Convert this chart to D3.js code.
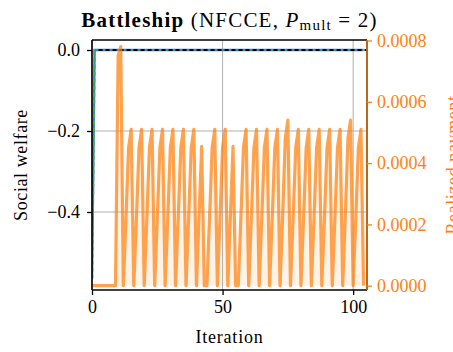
<!DOCTYPE html>
<html>
<head>
<meta charset="utf-8">
<script src="https://cdn.jsdelivr.net/npm/d3@7"></script>
<style>
  html, body { margin: 0; padding: 0; background: #fff; }
  svg { display: block; }
</style>
</head>
<body>
<svg id="chart" width="453" height="352"></svg>
<script>
// ---------- data ----------
const payment = [
  0, 0, 0, 0, 0, 0, 0, 0, 0, 0,
  0.00075, 0.00078,
  0, 0.00022, 0.00045, 0.00051,
  0, 0.00022, 0.00045, 0.00051,
  0, 0.00022, 0.00045, 0.00051,
  0, 0.00022, 0.00045, 0.00051,
  0, 0.00022, 0.00045, 0.00051,
  0, 0.00022, 0.00045, 0.00051,
  0, 0.00022, 0.00045, 0.00051,
  0, 0.00023, 0.000455,
  0, 0, 0.00022, 0.00045, 0.00051,
  0, 0.00022, 0.00045, 0.00051,
  0, 0.00023, 0.000455,
  0, 0, 0.00022, 0.00045, 0.00051,
  0, 0.00022, 0.00045, 0.00051,
  0, 0.00022, 0.00045, 0.00051,
  0, 0.00022, 0.00045, 0.00051,
  0, 0.00023, 0.00048, 0.00054,
  0, 0.00022, 0.00045, 0.00051,
  0, 0.00022, 0.00045, 0.00051,
  0, 0.00022, 0.00045, 0.00051,
  0, 0.00022, 0.00045, 0.00051,
  0, 0.00022, 0.00045, 0.00051,
  0, 0.00023, 0.00048, 0.00054,
  0, 0.00022, 0.00045, 0.00051,
  0
];
const iterations = payment.map((_, i) => i);

const welfareBlue = [
  -0.565, 0, 0, 0, 0, 0, 0, 0, 0, 0, 0, 0, 0, 0, 0, 0, 0, 0, 0, 0, 0,
  0, 0, 0, 0, 0, 0, 0, 0, 0, 0, 0, 0, 0, 0, 0, 0, 0, 0, 0, 0, 0,
  0, 0, 0, 0, 0, 0, 0, 0, 0, 0, 0, 0, 0, 0, 0, 0, 0, 0, 0, 0, 0,
  0, 0, 0, 0, 0, 0, 0, 0, 0, 0, 0, 0, 0, 0, 0, 0, 0, 0, 0, 0, 0,
  0, 0, 0, 0, 0, 0, 0, 0, 0, 0, 0, 0, 0, 0, 0, 0, 0, 0, 0, 0, 0
];
const welfareGreen = [-0.565, 0, 0];
const optimalWelfare = 0;

const xTicks = [0, 50, 100];
const yLeftTicks = [0, -0.2, -0.4];
const yRightTicks = [0, 0.0002, 0.0004, 0.0006, 0.0008];

// ---------- layout ----------
const L = 92, R = 367, T = 40, B = 290;
const FONT = "'Liberation Serif', 'Times New Roman', serif";
const svg = d3.select("#chart");

const x = d3.scaleLinear().domain([0, 105.3]).range([L, R]);
const yL = d3.scaleLinear().domain([-0.5926, 0.0247]).range([B, T]);
const yR = d3.scaleLinear().domain([-0.000014, 0.0008016]).range([B, T]);

const orange = "#ff7f0e";
const fs = 18;

// grid
const grid = svg.append("g");
xTicks.forEach(t => {
  grid.append("line").attr("x1", x(t)).attr("x2", x(t)).attr("y1", T).attr("y2", B)
    .attr("stroke", "#b0b0b0").attr("stroke-width", 1);
});
yLeftTicks.forEach(t => {
  grid.append("line").attr("x1", L).attr("x2", R).attr("y1", yL(t)).attr("y2", yL(t))
    .attr("stroke", "#b0b0b0").attr("stroke-width", 1);
});

// clip
svg.append("clipPath").attr("id", "clip").append("rect")
  .attr("x", L).attr("y", T).attr("width", R - L).attr("height", B - T);

const plot = svg.append("g").attr("clip-path", "url(#clip)");

// welfare lines
const lineL = d3.line().x((d, i) => x(iterations[i])).y(d => yL(d));
plot.append("path").datum(welfareBlue).attr("d", lineL)
  .attr("fill", "none").attr("stroke", "#3a85c9").attr("stroke-width", 2.4);
plot.append("path").datum(welfareGreen).attr("d", lineL)
  .attr("fill", "none").attr("stroke", "#4aad4a").attr("stroke-width", 2.4)
  .attr("stroke-dasharray", "4,3");
plot.append("line").attr("x1", x(2.5)).attr("x2", R).attr("y1", yL(optimalWelfare)).attr("y2", yL(optimalWelfare))
  .attr("stroke", "#000").attr("stroke-width", 2).attr("stroke-dasharray", "4,3");

// payment
const area = d3.area().x((d, i) => x(iterations[i])).y0(yR(0)).y1(d => yR(d));
const lineR = d3.line().x((d, i) => x(iterations[i])).y(d => yR(d));
plot.append("path").datum(payment).attr("d", area)
  .attr("fill", orange).attr("fill-opacity", 0.1);
plot.append("path").datum(payment).attr("d", lineR)
  .attr("fill", "none").attr("stroke", orange).attr("stroke-opacity", 0.72)
  .attr("stroke-width", 3.2).attr("stroke-linejoin", "round");

// spines
const sp = svg.append("g");
sp.append("line").attr("x1", L).attr("x2", R).attr("y1", T).attr("y2", T).attr("stroke", "#000").attr("stroke-width", 1.6);
sp.append("line").attr("x1", L).attr("x2", R).attr("y1", B).attr("y2", B).attr("stroke", "#000").attr("stroke-width", 1.6);
sp.append("line").attr("x1", L).attr("x2", L).attr("y1", T).attr("y2", B).attr("stroke", "#000").attr("stroke-width", 1.6);
sp.append("line").attr("x1", R).attr("x2", R).attr("y1", T).attr("y2", B).attr("stroke", "#000").attr("stroke-width", 1.6);
sp.append("line").attr("x1", R).attr("x2", R).attr("y1", T).attr("y2", B).attr("stroke", orange).attr("stroke-width", 1.6).attr("stroke-opacity", 0.85);

// axes
const fmtL = d => (d < 0 ? "\u2212" : "") + Math.abs(d).toFixed(1);
const gx = svg.append("g").attr("transform", `translate(0,${B})`)
  .call(d3.axisBottom(x).tickValues(xTicks).tickSize(5).tickPadding(5).tickFormat(d3.format("d")));
const gl = svg.append("g").attr("transform", `translate(${L},0)`)
  .call(d3.axisLeft(yL).tickValues(yLeftTicks).tickSize(5).tickPadding(7).tickFormat(fmtL));
const gr = svg.append("g").attr("transform", `translate(${R},0)`)
  .call(d3.axisRight(yR).tickValues(yRightTicks).tickSize(5).tickPadding(5).tickFormat(d3.format(".4f")));

[gx, gl, gr].forEach(g => {
  g.attr("font-family", null).attr("font-size", null);
  g.select(".domain").remove();
  g.selectAll("text").style("font-family", FONT).style("font-size", fs + "px");
  g.selectAll(".tick line").attr("stroke-width", 1.3);
});
gx.selectAll("text").attr("fill", "#000");
gl.selectAll("text").attr("fill", "#000");
gr.selectAll(".tick line").attr("stroke", orange);
gr.selectAll("text").attr("fill", orange);

// labels
svg.append("text").attr("x", (L + R) / 2).attr("y", 343).attr("text-anchor", "middle")
  .style("font-family", FONT).style("font-size", fs + "px").attr("letter-spacing", 0.8).text("Iteration");
svg.append("text").attr("transform", `translate(27,${(T + B) / 2}) rotate(-90)`)
  .attr("text-anchor", "middle").style("font-family", FONT).style("font-size", fs + "px")
  .attr("letter-spacing", 0.6).text("Social welfare");
svg.append("text").attr("transform", `translate(459,${(T + B) / 2}) rotate(-90)`)
  .attr("text-anchor", "middle").style("font-family", FONT).style("font-size", fs + "px")
  .attr("letter-spacing", 0.6).attr("fill", orange).text("Realized payment");

// title
const title = svg.append("text").attr("x", (L + R) / 2).attr("y", 27).attr("text-anchor", "middle")
  .style("font-family", FONT).style("font-size", "21px").attr("letter-spacing", 1.2);
title.append("tspan").attr("font-weight", "bold").text("Battleship");
title.append("tspan").text(" (NFCCE, ");
title.append("tspan").attr("font-style", "italic").text("P");
title.append("tspan").style("font-size", "15px").attr("dy", 3).text("mult");
title.append("tspan").attr("dy", -3).text(" = 2)");
</script>
</body>
</html>
